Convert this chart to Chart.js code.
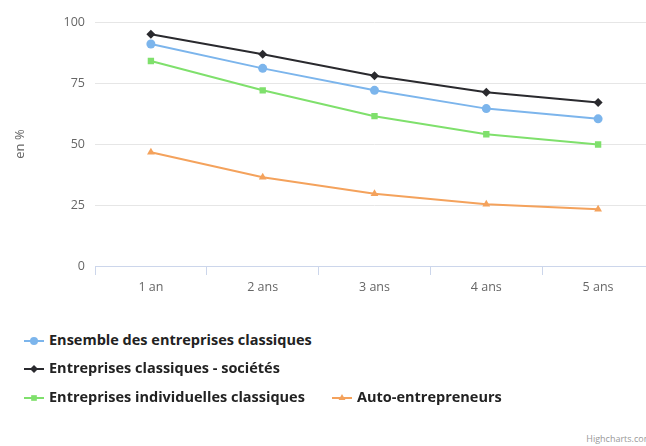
<!DOCTYPE html>
<html lang="fr">
<head>
    <meta charset="UTF-8">
    <title>Taux de survie des entreprises</title>
    <script src="https://cdn.jsdelivr.net/npm/chart.js"></script>
    <style>
        body { margin: 0; background: #fff; overflow: hidden; font-family: "Open Sans", sans-serif; }
        #wrap { position: absolute; left: 0; top: 0; }
        .legend { position: absolute; left: 24px; top: 330px; }
        .row { position: absolute; left: 0; white-space: nowrap; font-weight: bold; font-size: 14.5px; color: #222; }
        .item { position: absolute; white-space: nowrap; }
        .item canvas { vertical-align: middle; margin-right: 5px; }
        .credit { position: absolute; right: -6px; top: 432px; font-size: 9px; color: #999; }
    </style>
</head>
<body>
    <div id="wrap"><canvas id="chart" width="662" height="300"></canvas></div>
    <div class="legend" id="legend"></div>
    <div class="credit">Highcharts.com</div>

    <script>
        // years after creation
        const categories = ['1 an', '2 ans', '3 ans', '4 ans', '5 ans'];

        // survival rates in %
        const ensemble = [91, 81, 72, 64.5, 60.3];
        const societes = [95, 86.8, 78, 71.2, 67];
        const individuelles = [84, 72, 61.4, 54, 49.8];
        const autoEntrepreneurs = [46.6, 36.4, 29.6, 25.3, 23.3];

        const seriesNames = [
            'Ensemble des entreprises classiques',
            'Entreprises classiques - sociétés',
            'Entreprises individuelles classiques',
            'Auto-entrepreneurs'
        ];
        const colors = ['#7cb5ec', '#2a2a2e', '#7fe06c', '#f4a25c'];
        const markers = ['circle', 'rectRot', 'rect', 'triangle'];
        const seriesData = [ensemble, societes, individuelles, autoEntrepreneurs];

        const datasets = seriesData.map((d, i) => ({
            label: seriesNames[i],
            data: d,
            borderColor: colors[i],
            backgroundColor: colors[i],
            borderWidth: 2,
            pointStyle: markers[i],
            pointRadius: 4.5,
            pointBorderWidth: 0,
            tension: 0
        }));

        const chart = new Chart(document.getElementById('chart'), {
            type: 'line',
            data: { labels: categories, datasets: datasets },
            options: {
                responsive: false,
                animation: false,
                layout: { padding: { left: 8, top: 22, right: 8, bottom: 0 } },
                plugins: {
                    legend: { display: false },
                    tooltip: { enabled: false }
                },
                scales: {
                    x: {
                        offset: true,
                        grid: {
                            offset: true,
                            drawOnChartArea: false,
                            color: '#ccd6eb',
                            tickLength: 9
                        },
                        border: { color: '#ccd6eb', width: 1 },
                        ticks: { color: '#666', font: { family: 'Open Sans', size: 12.5 }, padding: 5 },
                        afterFit: function (scale) { scale.height = 34; }
                    },
                    y: {
                        min: 0,
                        max: 100,
                        ticks: {
                            stepSize: 25,
                            color: '#666',
                            font: { family: 'Open Sans', size: 12.5 },
                            padding: 10
                        },
                        grid: { color: '#e6e6e6', drawTicks: false },
                        border: { display: false },
                        title: {
                            display: true,
                            text: 'en %',
                            color: '#666',
                            font: { family: 'Open Sans', size: 13 },
                            padding: { top: 4, bottom: 2 }
                        },
                        afterFit: function (scale) { scale.width = 87; }
                    }
                }
            }
        });

        // Highcharts-like legend: line + marker symbol followed by bold label
        function symbol(i) {
            const c = document.createElement('canvas');
            c.width = 20; c.height = 14;
            const ctx = c.getContext('2d');
            ctx.strokeStyle = colors[i];
            ctx.fillStyle = colors[i];
            ctx.lineWidth = 2;
            ctx.beginPath(); ctx.moveTo(0, 7); ctx.lineTo(20, 7); ctx.stroke();
            Chart.helpers.drawPoint(ctx, {
                pointStyle: markers[i], radius: 4, borderWidth: 0
            }, 10, 7);
            return c;
        }

        const legendPos = [[0, 0], [0, 28], [0, 57], [308, 57]];
        const legendEl = document.getElementById('legend');
        seriesNames.forEach((name, i) => {
            const item = document.createElement('div');
            item.className = 'item row';
            item.style.left = legendPos[i][0] + 'px';
            item.style.top = legendPos[i][1] + 'px';
            item.appendChild(symbol(i));
            item.appendChild(document.createTextNode(name));
            legendEl.appendChild(item);
        });
    </script>
</body>
</html>
